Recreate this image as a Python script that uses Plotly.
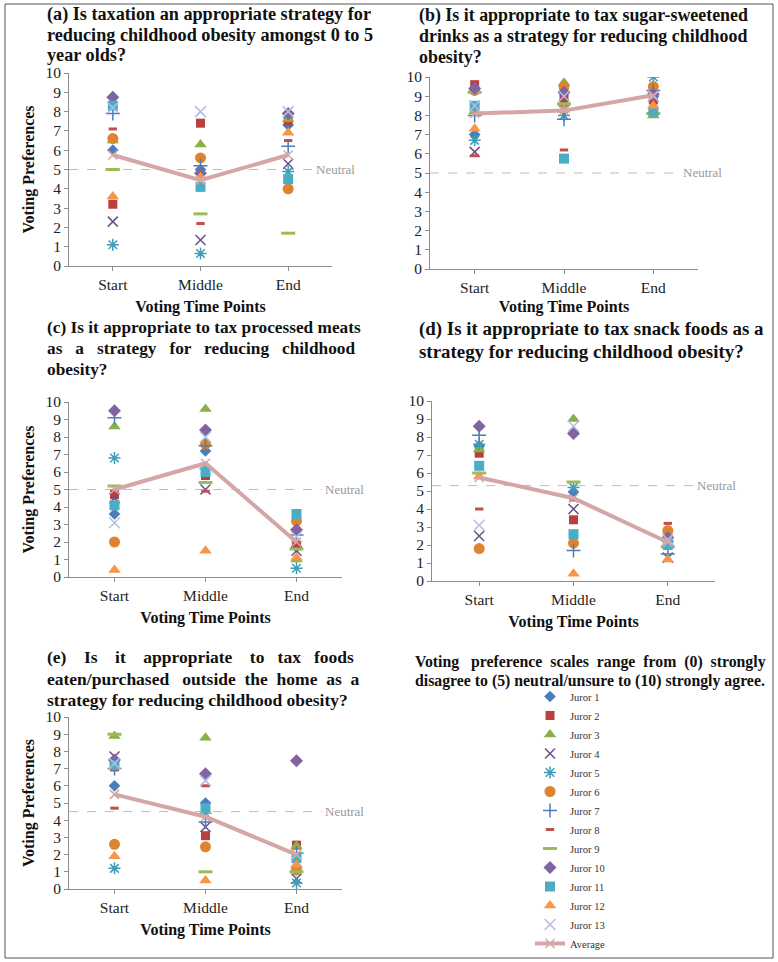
import plotly.graph_objects as go

W, H = 778, 962
TIME_POINTS = ["Start", "Middle", "End"]
JURORS = ["Juror %d" % i for i in range(1, 14)]

# votes per juror: [Start, Middle, End]
PANEL_A_VOTES = [
    [6.0, 5.0, 7.3], [3.2, 7.4, 7.5], [6.5, 6.3, 7.6], [2.3, 1.35, 5.3],
    [1.1, 0.65, 4.9], [6.6, 5.6, 4.0], [7.9, 5.2, 6.2], [7.1, 2.2, 6.5],
    [5.0, 2.7, 1.7], [8.75, 4.8, 7.9], [8.3, 4.1, 4.5], [3.6, 4.6, 6.9],
    [8.2, 8.0, 8.0],
]
PANEL_A_AVG = [5.75, 4.45, 5.75]

PANEL_B_VOTES = [
    [7.0, 8.5, 9.0], [9.6, 8.9, 8.8], [8.2, 9.7, 8.0], [6.1, 9.0, 9.0],
    [6.7, 8.0, 10.0], [9.3, 9.5, 9.5], [8.0, 7.8, 9.3], [5.9, 6.2, 8.4],
    [9.2, 8.6, 8.1], [9.4, 9.2, 9.1], [8.5, 5.75, 8.2], [7.3, 8.3, 8.5],
    [8.5, 9.0, 9.0],
]
PANEL_B_AVG = [8.1, 8.25, 9.05]

PANEL_C_VOTES = [
    [3.6, 7.2, 1.7], [4.7, 5.8, 1.8], [8.6, 9.6, 1.0], [4.5, 5.0, 1.5],
    [6.8, 6.2, 0.5], [2.0, 7.6, 3.2], [9.1, 7.5, 2.4], [4.9, 4.9, 2.0],
    [5.2, 5.4, 1.6], [9.5, 8.4, 2.7], [4.1, 6.0, 3.6], [0.4, 1.5, 1.1],
    [3.1, 8.0, 2.3],
]
PANEL_C_AVG = [5.0, 6.5, 2.0]

PANEL_D_VOTES = [
    [7.5, 4.95, 2.0], [7.1, 3.4, 2.2], [7.3, 9.0, 2.0], [2.5, 4.0, 1.3],
    [7.6, 5.2, 2.2], [1.8, 2.1, 2.8], [8.1, 1.7, 1.5], [4.0, 4.5, 3.2],
    [6.0, 5.5, 1.9], [8.6, 8.2, 2.4], [6.4, 2.6, 2.0], [5.8, 0.4, 1.2],
    [3.1, 8.6, 2.3],
]
PANEL_D_AVG = [5.75, 4.6, 2.15]

PANEL_E_VOTES = [
    [6.0, 5.0, 1.3], [7.1, 3.1, 2.55], [8.9, 8.8, 2.5], [7.7, 3.6, 0.6],
    [1.2, 4.4, 0.35], [2.6, 2.45, 1.1], [7.0, 3.9, 2.1], [4.7, 6.0, 1.6],
    [9.0, 1.0, 1.0], [7.5, 6.7, 7.45], [7.2, 4.7, 1.8], [1.9, 0.5, 1.4],
    [7.3, 6.3, 2.0],
]
PANEL_E_AVG = [5.5, 4.2, 2.0]

NEUTRAL = [5.0, 5.0, 5.0, 5.3, 4.5]
Y_TICKS = list(range(0, 11))

# title lines; numbers = extra spaces inserted after each word gap (to mimic justified text)
TITLE_LINES = [
    [("(a) Is taxation an appropriate strategy for", None),
     ("reducing childhood obesity amongst 0 to 5", None),
     ("year olds?", None)],
    [("(b) Is it appropriate to tax sugar-sweetened", None),
     ("drinks as a strategy for reducing childhood", None),
     ("obesity?", None)],
    [("(c) Is it appropriate to tax processed meats", None),
     ("as a strategy for reducing childhood", [2, 2, 2, 2, 2]),
     ("obesity?", None)],
    [("(d) Is it appropriate to tax snack foods as a", None),
     ("strategy for reducing childhood obesity?", None)],
    [("(e) Is it appropriate to tax foods", [3, 3, 3, 3, 2, 2]),
     ("eaten/purchased outside the home as a", [2, 1, 1, 1, 1]),
     ("strategy for reducing childhood obesity?", None)],
]
NOTE_LINES = [
    ("Voting preference scales range from (0) strongly", [2, 1, 1, 1, 1, 1]),
    ("disagree to (5) neutral/unsure to (10) strongly agree.", None),
]

# ---- styles ----
SERIF = "Liberation Serif, Times New Roman, serif"
STYLES = [
    dict(symbol="diamond", size=9, color="#4A7EBB"),
    dict(symbol="square", size=9, color="#B8403E"),
    dict(symbol="triangle-up", size=11, color="#8DB045"),
    dict(symbol="x-thin-open", size=10, color="#6B4E8C", lw=1.5),
    dict(symbol="asterisk-open", size=10, color="#3D9CB8", lw=1.5),
    dict(symbol="circle", size=11, color="#DE832F"),
    dict(symbol="cross-thin-open", size=10, color="#4A7EBB", lw=1.5),
    dict(symbol="line-ew-open", size=6, color="#C0504D", lw=3),
    dict(symbol="line-ew-open", size=10, color="#9BBB59", lw=3),
    dict(symbol="diamond", size=10, color="#8064A2"),
    dict(symbol="square", size=10, color="#4BACC6"),
    dict(symbol="triangle-up", size=11, color="#F79646"),
    dict(symbol="x-thin-open", size=11, color="#B3BEDF", lw=1.5),
]
AVG_COLOR = "#D4A6A6"

# pixel geometry of each plot area: (x_left, x_right, y_top(10), y_bottom(0))
BOXES = [
    (69, 332, 73, 266),
    (430, 698, 77, 269),
    (69, 342, 402, 577),
    (432, 715, 401, 581),
    (69, 342, 717, 889),
]
NEUTRAL_END = [2.28, 2.3, 2.28, 2.28, 2.28]
X_TITLE_STANDOFF = [9, 6, 9, 9, 9]
TITLE_X = [45, 417, 45, 417, 45]
TITLE_Y0 = [14, 15, 327, 329, 657]
TITLE_DY = [20.5, 21, 21.5, 22, 21.5]
TITLE_SIZE = [18.2, 17.9, 17.3, 18.9, 17.5]


def spaced(text, extra):
    if not extra:
        return text
    words = text.split(" ")
    out = words[0]
    for k, w in enumerate(words[1:]):
        n = extra[k] if k < len(extra) else 0
        out += " " + "&nbsp;" * n + w
    return out


panels = [
    (PANEL_A_VOTES, PANEL_A_AVG), (PANEL_B_VOTES, PANEL_B_AVG),
    (PANEL_C_VOTES, PANEL_C_AVG), (PANEL_D_VOTES, PANEL_D_AVG),
    (PANEL_E_VOTES, PANEL_E_AVG),
]

fig = go.Figure()
annotations = []
shapes = []

for p, (votes, avg) in enumerate(panels):
    xa = "x" if p == 0 else "x%d" % (p + 1)
    ya = "y" if p == 0 else "y%d" % (p + 1)
    for j, vals in enumerate(votes):
        st = STYLES[j]
        marker = dict(symbol=st["symbol"], size=st["size"], color=st["color"])
        if "lw" in st:
            marker["line"] = dict(color=st["color"], width=st["lw"])
        else:
            marker["line"] = dict(width=0)
        fig.add_trace(go.Scatter(
            x=TIME_POINTS, y=vals, mode="markers", name=JURORS[j],
            marker=marker, xaxis=xa, yaxis=ya,
            legendgroup=JURORS[j], showlegend=(p == 0),
        ))
    fig.add_trace(go.Scatter(
        x=TIME_POINTS, y=avg, mode="lines+markers", name="Average",
        line=dict(color=AVG_COLOR, width=4),
        marker=dict(symbol="x-thin-open", size=9, line=dict(color=AVG_COLOR, width=1.5), color=AVG_COLOR),
        xaxis=xa, yaxis=ya, legendgroup="Average", showlegend=(p == 4),
    ))

    x0, x1, yt, yb = BOXES[p]
    axis_common = dict(
        showline=True, linecolor="#8C8C8C", linewidth=1, ticks="outside",
        ticklen=4, tickcolor="#8C8C8C", showgrid=False, zeroline=False,
        tickfont=dict(family=SERIF, size=15.5, color="#222"),
    )
    fig.update_layout(**{
        ("xaxis" if p == 0 else "xaxis%d" % (p + 1)): dict(
            axis_common, domain=[x0 / W, x1 / W], anchor=ya, type="category",
            range=[-0.5, 2.5],
            title=dict(text="<b>Voting Time Points</b>", standoff=X_TITLE_STANDOFF[p],
                       font=dict(family=SERIF, size=16, color="#111")),
        ),
        ("yaxis" if p == 0 else "yaxis%d" % (p + 1)): dict(
            axis_common, domain=[1 - yb / H, 1 - yt / H], anchor=xa,
            range=[0, 10], tickvals=Y_TICKS,
            title=dict(text="<b>Voting Preferences</b>" if p in (0, 2, 4) else "",
                       standoff=6, font=dict(family=SERIF, size=16, color="#111")),
        ),
    })

    shapes.append(dict(type="line", xref=xa, yref=ya, x0=-0.5, x1=NEUTRAL_END[p],
                       y0=NEUTRAL[p], y1=NEUTRAL[p],
                       line=dict(color="#BDBDBD", width=1, dash="dash"), layer="below"))
    annotations.append(dict(xref=xa, yref=ya, x=NEUTRAL_END[p], y=NEUTRAL[p],
                            text="Neutral", showarrow=False, xanchor="left", xshift=1,
                            font=dict(family=SERIF, size=13, color="#9A9A9A")))
    for li, (line, extra) in enumerate(TITLE_LINES[p]):
        cy = TITLE_Y0[p] + li * TITLE_DY[p]
        annotations.append(dict(xref="paper", yref="paper", x=TITLE_X[p] / W, y=1 - cy / H,
                                xanchor="left", yanchor="middle", align="left", showarrow=False,
                                text="<b>" + spaced(line, extra) + "</b>",
                                font=dict(family=SERIF, size=TITLE_SIZE[p], color="#111")))

for li, (line, extra) in enumerate(NOTE_LINES):
    cy = 662 + li * 19
    annotations.append(dict(xref="paper", yref="paper", x=590 / W, y=1 - cy / H,
                            xanchor="center", yanchor="middle", showarrow=False,
                            text="<b>" + spaced(line, extra) + "</b>",
                            font=dict(family=SERIF, size=15.8, color="#111")))

shapes.append(dict(type="rect", xref="paper", yref="paper", x0=5 / W, x1=773 / W,
                   y0=1 - 958 / H, y1=1 - 4 / H, line=dict(color="#555", width=1)))

fig.update_layout(
    width=W, height=H, margin=dict(l=0, r=0, t=0, b=0, autoexpand=False),
    paper_bgcolor="white", plot_bgcolor="white",
    shapes=shapes, annotations=annotations,
    legend=dict(x=530 / W, y=1 - 682 / H, xanchor="left", yanchor="top",
                font=dict(family=SERIF, size=10.5, color="#333"),
                itemwidth=30, tracegroupgap=0, bgcolor="rgba(0,0,0,0)"),
)

fig.write_html("out.html", config={"displayModeBar": False},
               post_script="document.body.style.margin='0';")
